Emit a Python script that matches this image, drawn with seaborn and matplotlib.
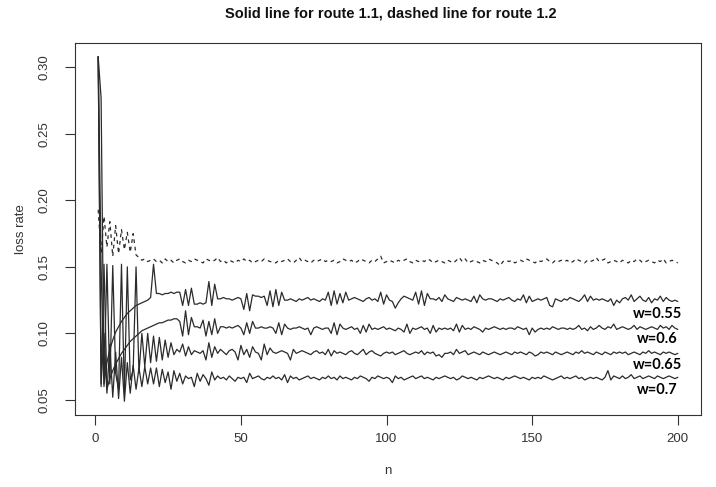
import numpy as np
import pandas as pd
import matplotlib
matplotlib.use("Agg")
import matplotlib.pyplot as plt
import seaborn as sns
from matplotlib import font_manager

# Loss rate per step n, in thousandths, for route 1.1 at four weights and route 1.2.
n = list(range(1, 201))

loss_w055 = [
    308, 277, 62, 78, 88, 95, 101, 105, 109, 112, 115, 117, 119, 121, 122, 123, 124, 125, 127, 152,
    130, 130, 129, 130, 130, 131, 130, 131, 131, 121, 133, 121, 134, 122, 122, 123, 122, 123, 139, 121,
    137, 126, 126, 127, 126, 126, 125, 126, 127, 126, 118, 130, 117, 129, 128, 128, 127, 128, 121, 132,
    120, 133, 121, 131, 125, 125, 126, 125, 124, 126, 125, 126, 127, 125, 126, 125, 124, 126, 125, 131,
    121, 132, 122, 130, 123, 131, 125, 126, 127, 126, 125, 124, 126, 127, 125, 126, 124, 131, 122, 129,
    125, 124, 119, 123, 126, 128, 127, 126, 125, 131, 122, 132, 121, 130, 126, 126, 125, 127, 124, 129,
    126, 125, 124, 127, 126, 125, 126, 125, 124, 128, 123, 129, 126, 125, 126, 126, 125, 124, 126, 125,
    126, 127, 125, 124, 126, 125, 129, 123, 128, 124, 125, 126, 125, 126, 127, 121, 120, 126, 125, 124,
    126, 125, 127, 126, 125, 124, 126, 129, 124, 128, 125, 126, 125, 126, 125, 124, 126, 121, 125, 123,
    126, 127, 125, 129, 124, 126, 128, 125, 124, 127, 123, 126, 125, 128, 124, 127, 125, 124, 125, 124,
]

loss_w060 = [
    308, 60, 152, 58, 66, 72, 77, 81, 85, 88, 91, 94, 96, 98, 100, 102, 103, 104, 105, 106,
    107, 108, 108, 109, 110, 110, 111, 111, 109, 98, 117, 99, 112, 105, 105, 104, 110, 98, 109, 99,
    111, 100, 105, 105, 104, 105, 104, 105, 106, 104, 99, 108, 100, 109, 104, 104, 105, 104, 104, 105,
    104, 100, 108, 99, 107, 104, 103, 104, 104, 105, 104, 103, 104, 99, 104, 105, 104, 103, 104, 104,
    100, 108, 99, 107, 104, 103, 104, 105, 103, 104, 100, 106, 101, 107, 103, 104, 103, 104, 105, 103,
    104, 103, 102, 104, 103, 101, 107, 100, 104, 103, 104, 105, 103, 104, 100, 106, 101, 104, 103, 104,
    103, 104, 102, 107, 101, 106, 103, 104, 103, 105, 104, 103, 101, 104, 103, 104, 105, 104, 103, 104,
    103, 104, 104, 103, 105, 104, 103, 104, 99, 104, 101, 103, 104, 103, 104, 103, 105, 104, 103, 104,
    104, 103, 104, 103, 104, 106, 103, 104, 102, 105, 103, 104, 106, 104, 103, 105, 104, 107, 103, 104,
    105, 104, 103, 104, 106, 103, 105, 104, 103, 104, 105, 104, 103, 106, 104, 105, 103, 106, 104, 103,
]

loss_w065 = [
    308, 150, 60, 152, 62, 151, 70, 58, 152, 55, 150, 65, 72, 150, 70, 100, 75, 100, 78, 98,
    79, 97, 80, 95, 82, 93, 84, 88, 86, 92, 83, 90, 84, 87, 86, 85, 87, 80, 93, 82,
    90, 85, 88, 86, 84, 87, 88, 86, 80, 91, 84, 88, 82, 90, 86, 85, 80, 92, 84, 89,
    86, 85, 86, 87, 86, 85, 80, 88, 85, 86, 87, 86, 85, 84, 86, 87, 85, 86, 84, 88,
    83, 87, 85, 86, 85, 84, 86, 87, 85, 84, 86, 88, 84, 86, 87, 85, 84, 83, 85, 86,
    85, 86, 84, 85, 86, 87, 85, 84, 85, 86, 85, 87, 84, 86, 85, 86, 83, 84, 82, 85,
    85, 86, 84, 88, 85, 86, 87, 84, 85, 86, 85, 84, 86, 85, 84, 85, 86, 85, 84, 85,
    86, 85, 84, 86, 85, 86, 85, 84, 86, 85, 83, 84, 86, 85, 86, 85, 84, 86, 85, 84,
    85, 86, 85, 84, 86, 85, 87, 85, 86, 85, 84, 86, 85, 84, 86, 85, 84, 86, 85, 86,
    85, 86, 84, 85, 86, 85, 84, 86, 85, 87, 85, 86, 85, 84, 86, 85, 86, 85, 84, 85,
]

loss_w070 = [
    308, 62, 100, 55, 92, 52, 86, 51, 82, 49, 78, 55, 76, 58, 74, 60, 75, 62, 74, 62,
    74, 60, 73, 63, 71, 58, 72, 64, 70, 62, 68, 66, 67, 60, 70, 64, 69, 66, 61, 71,
    65, 68, 66, 67, 65, 68, 66, 64, 67, 66, 67, 63, 70, 66, 67, 68, 66, 65, 67, 66,
    68, 66, 67, 65, 69, 63, 68, 66, 67, 65, 66, 67, 68, 66, 67, 66, 65, 67, 66, 68,
    66, 67, 65, 68, 66, 67, 66, 65, 67, 66, 68, 67, 66, 64, 67, 66, 68, 67, 66, 67,
    66, 63, 68, 66, 67, 65, 66, 67, 68, 66, 67, 68, 66, 67, 66, 65, 67, 66, 67, 68,
    67, 66, 67, 65, 66, 68, 67, 66, 67, 66, 65, 67, 66, 67, 68, 67, 66, 67, 66, 65,
    67, 66, 67, 68, 67, 66, 67, 66, 65, 67, 66, 67, 66, 68, 67, 66, 65, 66, 67, 68,
    66, 67, 66, 67, 68, 66, 67, 65, 66, 67, 66, 67, 66, 65, 67, 72, 65, 68, 67, 66,
    68, 66, 67, 69, 66, 67, 68, 66, 67, 68, 67, 66, 68, 67, 66, 67, 68, 67, 66, 67,
]

loss_route12 = [
    193, 160, 188, 165, 184, 158, 181, 160, 178, 163, 176, 161, 175, 159, 157, 155, 156, 154, 155, 156,
    154, 155, 153, 156, 154, 155, 153, 155, 156, 154, 153, 155, 154, 156, 155, 154, 153, 156, 155, 154,
    155, 157, 154, 155, 153, 155, 154, 153, 155, 154, 156, 154, 155, 153, 154, 155, 154, 156, 155, 154,
    154, 153, 155, 154, 155, 156, 154, 153, 155, 157, 154, 155, 154, 153, 155, 154, 155, 156, 154, 155,
    154, 155, 153, 154, 156, 155, 154, 155, 153, 154, 156, 155, 154, 153, 155, 154, 156, 158, 153, 154,
    155, 154, 153, 155, 154, 155, 156, 154, 153, 155, 154, 155, 154, 156, 155, 153, 154, 155, 154, 153,
    155, 154, 153, 155, 157, 154, 156, 153, 154, 155, 154, 153, 155, 154, 156, 155, 154, 153, 151, 154,
    155, 154, 155, 153, 154, 155, 154, 156, 155, 154, 153, 155, 154, 155, 156, 154, 153, 155, 154, 155,
    154, 155, 153, 154, 156, 155, 154, 153, 155, 154, 155, 157, 154, 155, 156, 153, 154, 155, 154, 153,
    155, 154, 153, 155, 154, 156, 155, 153, 154, 155, 154, 153, 155, 154, 156, 153, 154, 155, 154, 153,
]

weight_labels = ["w=0.55", "w=0.6", "w=0.65", "w=0.7"]
label_y = [0.1146, 0.0958, 0.0763, 0.0575]
x_ticks = [0, 50, 100, 150, 200]
y_ticks = [0.05, 0.10, 0.15, 0.20, 0.25, 0.30]

solid = {w: np.array(v) / 1000 for w, v in
         zip(weight_labels, [loss_w055, loss_w060, loss_w065, loss_w070])}
dashed = np.array(loss_route12) / 1000

sns.set_style("ticks")
names = {f.name for f in font_manager.fontManager.ttflist}
base_font = "Liberation Sans" if "Liberation Sans" in names else "DejaVu Sans"
plt.rcParams["font.family"] = [base_font, "DejaVu Sans"]

fig = plt.figure(figsize=(7.16, 4.87), dpi=100)
ax = fig.add_axes([75 / 716, 1 - 415 / 487, (701 - 75) / 716, (415 - 43) / 487])

line_col = "#2b2b2b"
for w in weight_labels:
    sns.lineplot(x=n, y=solid[w], ax=ax, color=line_col, linewidth=0.9,
                 legend=False, estimator=None)
sns.lineplot(x=n, y=dashed, ax=ax, color=line_col, linewidth=0.9,
             linestyle=(0, (3, 3)), legend=False, estimator=None)

# R-style 4% padding around the data range
allv = np.concatenate([dashed] + list(solid.values()))
xr = max(n) - min(n)
yr = allv.max() - allv.min()
ax.set_xlim(min(n) - 0.04 * xr, max(n) + 0.04 * xr)
ax.set_ylim(allv.min() - 0.04 * yr, allv.max() + 0.04 * yr)

ax.set_xticks(x_ticks)
ax.set_xticklabels([str(t) for t in x_ticks])
ax.set_yticks(y_ticks)
ax.set_yticklabels([f"{t:.2f}" for t in y_ticks], rotation=90, va="center")
ax.tick_params(direction="out", length=7, width=0.8, color="#333333",
               labelsize=9.5, labelcolor="#333333", bottom=True, left=True)
ax.tick_params(axis="y", pad=11)
ax.tick_params(axis="x", pad=6)
for s in ax.spines.values():
    s.set_visible(True)
    s.set_color("#333333")
    s.set_linewidth(0.8)

ax.set_xlabel("n", fontsize=9.5, color="#333333", labelpad=14)
ax.set_ylabel("loss rate", fontsize=9.5, color="#333333", labelpad=8)
fig.text(391 / 716, 1 - 13 / 487, "Solid line for route 1.1, dashed line for route 1.2",
         ha="center", va="center", fontsize=10.5, fontweight="bold", color="#111111")

label_font = "Lato" if "Lato" in names else base_font
for lab, yv in zip(weight_labels, label_y):
    ax.text(193.0, yv, lab, ha="center", va="center", fontsize=10.5,
            fontweight="bold", family=[label_font, "DejaVu Sans"], color="black")

fig.savefig("out.png", dpi=100)
